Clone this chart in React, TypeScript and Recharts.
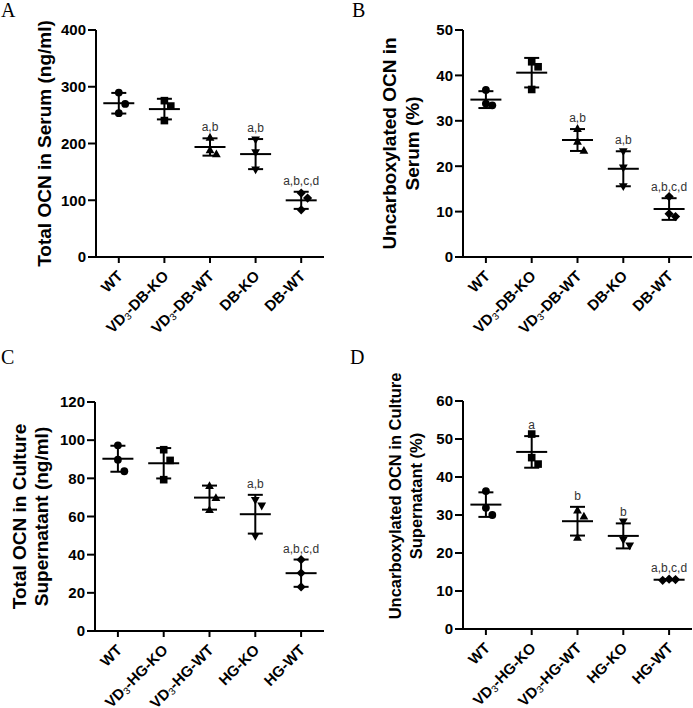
import React from "react";
import { ScatterChart, Scatter, XAxis, YAxis, ErrorBar } from "recharts";

const FONT = '"Liberation Sans", Arial, sans-serif';

const SERUM_GROUPS = ["WT", "VD3-DB-KO", "VD3-DB-WT", "DB-KO", "DB-WT"];
const CULTURE_GROUPS = ["WT", "VD3-HG-KO", "VD3-HG-WT", "HG-KO", "HG-WT"];

// A: total OCN in serum (ng/ml), three mice per group
const totalSerum = [
  [289.7, 269.8, 253.4],
  [275.5, 266.0, 240.4],
  [211.0, 181.8, 188.8],
  [206.4, 184.0, 153.6],
  [112.6, 103.8, 83.2],
];
const totalSerumTicks = [0, 100, 200, 300, 400];
const totalSerumMarks = ["", "", "a,b", "a,b", "a,b,c,d"];

// B: uncarboxylated OCN in serum (%)
const ucSerum = [
  [36.8, 33.4, 33.8],
  [43.0, 41.9, 36.9],
  [28.3, 25.5, 23.5],
  [23.2, 19.6, 15.5],
  [13.3, 9.5, 8.9],
];
const ucSerumTicks = [0, 10, 20, 30, 40, 50];
const ucSerumMarks = ["", "", "a,b", "a,b", "a,b,c,d"];

// C: total OCN in culture supernatant (ng/ml)
const totalCulture = [
  [97.3, 89.8, 83.7],
  [95.0, 89.4, 79.3],
  [76.2, 69.9, 63.6],
  [68.5, 65.5, 49.6],
  [37.4, 30.4, 23.1],
];
const totalCultureTicks = [0, 20, 40, 60, 80, 100, 120];
const totalCultureMarks = ["", "", "", "a,b", "a,b,c,d"];

// D: uncarboxylated OCN in culture supernatant (%)
const ucCulture = [
  [36.3, 31.9, 30.0],
  [51.3, 45.1, 43.4],
  [31.3, 29.7, 24.1],
  [28.2, 23.4, 21.9],
  [13.1, 12.8, 13.0],
];
const ucCultureTicks = [0, 10, 20, 30, 40, 50, 60];
const ucCultureMarks = ["", "a", "b", "b", "a,b,c,d"];

// simple column scatter: points that would overlap get pushed sideways
function spread(vals: number[], span: number) {
  const thr = span * 0.055;
  const order = vals.map((_, i) => i).sort((a, b) => vals[b] - vals[a]);
  const off = vals.map(() => 0);
  const placed: number[] = [];
  for (const i of order) {
    for (const c of [0, 0.14, -0.14, 0.28, -0.28]) {
      const ok = placed.every(
        (j) => Math.abs(vals[j] - vals[i]) >= thr || Math.abs(off[j] - c) >= 0.1
      );
      if (ok) {
        off[i] = c;
        break;
      }
    }
    placed.push(i);
  }
  return off;
}

function buildPanel(values: number[][], marks: string[], span: number) {
  const points: any[] = [];
  const means: any[] = [];
  const notes: any[] = [];
  values.forEach((vals, g) => {
    const offs = spread(vals, span);
    vals.forEach((v, i) => points.push({ x: g + offs[i], y: v, g }));
    const mean = vals.reduce((a, b) => a + b, 0) / vals.length;
    const sd = Math.sqrt(
      vals.reduce((a, b) => a + (b - mean) ** 2, 0) / (vals.length - 1)
    );
    means.push({ x: g, y: mean, sd });
    if (marks[g]) notes.push({ x: g, y: mean + sd, text: marks[g] });
  });
  return { points, means, notes };
}

function Marker(props: any) {
  const { cx, cy, payload } = props;
  if (cx == null || cy == null) return null;
  const g = payload.g;
  if (g === 0) return <circle cx={cx} cy={cy} r={3.9} fill="#000" />;
  if (g === 1)
    return <rect x={cx - 3.8} y={cy - 3.8} width={7.6} height={7.6} fill="#000" />;
  if (g === 2)
    return (
      <path
        d={`M${cx},${cy - 4.4}L${cx + 4.4},${cy + 3.4}L${cx - 4.4},${cy + 3.4}Z`}
        fill="#000"
      />
    );
  if (g === 3)
    return (
      <path
        d={`M${cx},${cy + 4.4}L${cx + 4.4},${cy - 3.4}L${cx - 4.4},${cy - 3.4}Z`}
        fill="#000"
      />
    );
  return (
    <path
      d={`M${cx},${cy - 4.6}L${cx + 4.6},${cy}L${cx},${cy + 4.6}L${cx - 4.6},${cy}Z`}
      fill="#000"
    />
  );
}

function MeanLine(props: any) {
  const { cx, cy } = props;
  if (cx == null || cy == null) return null;
  return <line x1={cx - 15.5} x2={cx + 15.5} y1={cy} y2={cy} stroke="#000" strokeWidth={2} />;
}

function Note(props: any) {
  const { cx, cy, payload } = props;
  if (cx == null || cy == null) return null;
  return (
    <text x={cx} y={cy - 7} textAnchor="middle" fontSize={12} fontFamily={FONT} fill="#333">
      {payload.text}
    </text>
  );
}

function XTick(props: any) {
  const { x, y, payload, names } = props;
  const label: string = names[payload.value] ?? "";
  const m = label.match(/^VD3(.*)$/);
  const ax = x + 5;
  const ay = y + 12;
  return (
    <text
      x={ax}
      y={ay}
      transform={`rotate(-45 ${ax} ${ay})`}
      textAnchor="end"
      fontSize={15}
      fontWeight={700}
      fontFamily={FONT}
      fill="#000"
    >
      {m ? (
        <>
          <tspan>VD</tspan>
          <tspan fontSize={10} fontWeight={400} dy={2}>
            3
          </tspan>
          <tspan dy={-2}>{m[1]}</tspan>
        </>
      ) : (
        label
      )}
    </text>
  );
}

function YTitle(props: any) {
  const { viewBox, lines, size = 19, base = 45.5, gap = 22.5, shift = 0 } = props;
  const axisX = viewBox.x + viewBox.width;
  const cy = viewBox.y + viewBox.height / 2 + shift;
  const n = lines.length;
  return (
    <g>
      {lines.map((t: string, i: number) => {
        const bx = axisX - base - (n - 1 - i) * gap;
        return (
          <text
            key={i}
            x={bx}
            y={cy}
            transform={`rotate(-90 ${bx} ${cy})`}
            textAnchor="middle"
            fontSize={size}
            fontWeight={700}
            fontFamily={FONT}
            fill="#000"
          >
            {t}
          </text>
        );
      })}
    </g>
  );
}

interface PanelProps {
  values: number[][];
  ticks: number[];
  marks: string[];
  names: string[];
  title: string[];
  titleOpts?: { size?: number; base?: number; gap?: number; shift?: number };
  box: { left: number; top: number; width: number; height: number; yW: number; mTop: number; mRight: number; xH: number };
}

function Panel({ values, ticks, marks, names, title, titleOpts, box }: PanelProps) {
  const max = ticks[ticks.length - 1];
  const { points, means, notes } = buildPanel(values, marks, max);
  const axisStyle = { stroke: "#000", strokeWidth: 2 };
  return (
    <div style={{ position: "absolute", left: box.left, top: box.top }}>
      <ScatterChart
        width={box.width}
        height={box.height}
        margin={{ top: box.mTop, right: box.mRight, bottom: 0, left: 0 }}
      >
        <XAxis
          type="number"
          dataKey="x"
          domain={[-0.5, 4.5]}
          ticks={[0, 1, 2, 3, 4]}
          interval={0}
          height={box.xH}
          axisLine={axisStyle}
          tickLine={axisStyle}
          tickSize={6}
          tickMargin={2}
          tick={<XTick names={names} />}
        />
        <YAxis
          type="number"
          dataKey="y"
          domain={[0, max]}
          ticks={ticks}
          interval={0}
          width={box.yW}
          axisLine={axisStyle}
          tickLine={axisStyle}
          tickSize={8}
          tickMargin={2}
          tick={{ fontSize: 15, fontWeight: 700, fill: "#000", fontFamily: FONT }}
          label={<YTitle lines={title} {...(titleOpts || {})} />}
        />
        <Scatter data={points} isAnimationActive={false} shape={(p: any) => <Marker {...p} />} />
        <Scatter data={means} isAnimationActive={false} shape={(p: any) => <MeanLine {...p} />}>
          <ErrorBar dataKey="sd" direction="y" width={7.5} stroke="#000" strokeWidth={2} />
        </Scatter>
        <Scatter data={notes} isAnimationActive={false} shape={(p: any) => <Note {...p} />} />
      </ScatterChart>
    </div>
  );
}

const letterStyle: React.CSSProperties = {
  position: "absolute",
  fontFamily: '"Liberation Serif", "Times New Roman", serif',
  fontSize: 20,
  lineHeight: "20px",
};

export default function App() {
  return (
    <div style={{ position: "relative", width: 693, height: 708, background: "#fff", overflow: "hidden" }}>
      <style>{"body{margin:0}"}</style>
      <Panel
        values={totalSerum}
        ticks={totalSerumTicks}
        marks={totalSerumMarks}
        names={SERUM_GROUPS}
        title={["Total OCN in Serum (ng/ml)"]}
        box={{ left: 0, top: 0, width: 346, height: 350, yW: 96, mTop: 30, mRight: 22, xH: 93 }}
      />
      <Panel
        values={ucSerum}
        ticks={ucSerumTicks}
        marks={ucSerumMarks}
        names={SERUM_GROUPS}
        title={["Uncarboxylated OCN in", "Serum (%)"]}
        titleOpts={{ base: 44, gap: 23 }}
        box={{ left: 346, top: 0, width: 347, height: 350, yW: 117, mTop: 30, mRight: 1, xH: 93 }}
      />
      <Panel
        values={totalCulture}
        ticks={totalCultureTicks}
        marks={totalCultureMarks}
        names={CULTURE_GROUPS}
        title={["Total OCN in Culture", "Supernatant (ng/ml)"]}
        titleOpts={{ base: 47, gap: 22 }}
        box={{ left: 0, top: 355, width: 346, height: 353, yW: 95, mTop: 47, mRight: 22, xH: 77 }}
      />
      <Panel
        values={ucCulture}
        ticks={ucCultureTicks}
        marks={ucCultureMarks}
        names={CULTURE_GROUPS}
        title={["Uncarboxylated OCN in Culture", "Supernatant (%)"]}
        titleOpts={{ size: 16.5, base: 41.5, gap: 20.5, shift: -19 }}
        box={{ left: 346, top: 355, width: 347, height: 353, yW: 117, mTop: 46, mRight: 1, xH: 79 }}
      />
      <div style={{ ...letterStyle, left: 1, top: -0.5 }}>A</div>
      <div style={{ ...letterStyle, left: 352, top: -0.5 }}>B</div>
      <div style={{ ...letterStyle, left: 1, top: 347 }}>C</div>
      <div style={{ ...letterStyle, left: 350, top: 347 }}>D</div>
    </div>
  );
}
